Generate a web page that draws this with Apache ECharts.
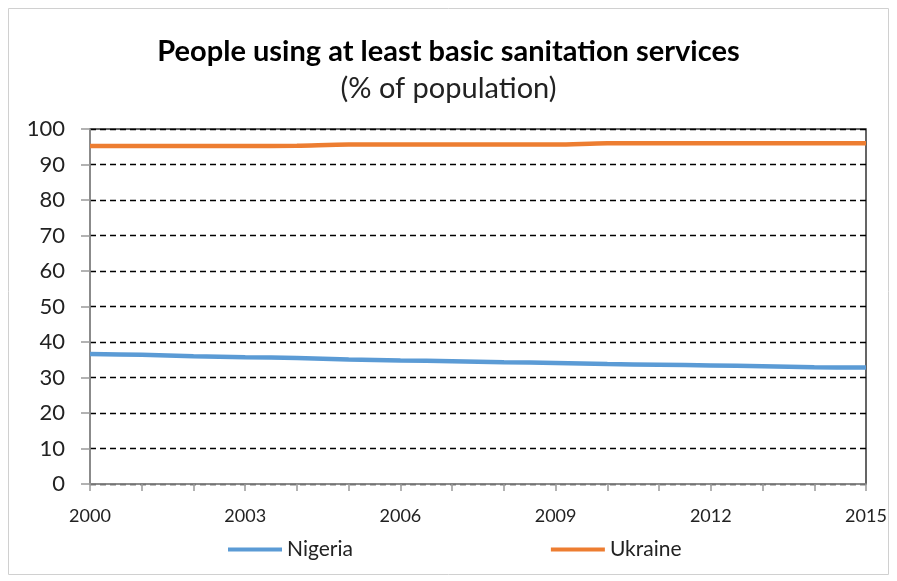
<!DOCTYPE html>
<html>
<head>
<meta charset="utf-8">
<script src="https://cdn.jsdelivr.net/npm/echarts@6/dist/echarts.min.js"></script>
<style>
  html, body { margin: 0; padding: 0; background: #fff; }
  #chart { width: 897px; height: 581px; }
</style>
</head>
<body>
<div id="chart"></div>
<script>
// Years on the category axis
const years = ['2000','2001','2002','2003','2004','2005','2006','2007',
               '2008','2009','2010','2011','2012','2013','2014','2015'];
// Share of population using at least basic sanitation services (%)
const nigeria = [36.6, 36.4, 36.0, 35.7, 35.5, 35.1, 34.8, 34.6,
                 34.3, 34.1, 33.8, 33.6, 33.4, 33.2, 32.9, 32.8];
const ukraine = [95.2, 95.2, 95.2, 95.2, 95.3, 95.6, 95.6, 95.6,
                 95.6, 95.6, 96.0, 96.0, 96.0, 96.0, 96.0, 96.0];

const titleText = 'People using at least basic sanitation services';
const subtitleText = '(% of population)';
const font = 'Lato, "Open Sans", sans-serif';

const chart = echarts.init(document.getElementById('chart'));
chart.setOption({
  animation: false,
  backgroundColor: '#fff',
  title: {
    text: titleText,
    subtext: subtitleText,
    left: 'center',
    top: 32,
    itemGap: 8,
    textStyle: { fontFamily: font, fontSize: 29, fontWeight: 'bold', color: '#000' },
    subtextStyle: { fontFamily: font, fontSize: 29, color: '#222' }
  },
  legend: {
    bottom: 16,
    left: 223,
    itemGap: 198,
    itemWidth: 54,
    itemHeight: 4,
    icon: 'rect',
    textStyle: { fontFamily: font, fontSize: 21, color: '#222' },
    data: ['Nigeria', 'Ukraine']
  },
  grid: { left: 90, right: 31, top: 129, bottom: 97, show: true, borderColor: '#333', borderWidth: 1.5 },
  xAxis: {
    type: 'category',
    data: years,
    boundaryGap: false,
    axisLine: { lineStyle: { color: '#999', width: 1.5 } },
    axisTick: { interval: 0, length: 7, lineStyle: { color: '#999', width: 1.5 } },
    axisLabel: { interval: 2, margin: 23, fontFamily: font, fontSize: 18, color: '#222' },
    splitLine: { show: false }
  },
  yAxis: {
    type: 'value',
    min: 0,
    max: 100,
    interval: 10,
    axisLine: { show: true, lineStyle: { color: '#999', width: 1.5 } },
    axisTick: { show: true, length: 9, lineStyle: { color: '#999', width: 1.5 } },
    axisLabel: { margin: 25, fontFamily: font, fontSize: 22, color: '#222' },
    splitLine: { lineStyle: { color: '#000', type: [6, 4], width: 1.3 } }
  },
  series: [
    {
      name: 'Nigeria', type: 'line', data: nigeria, showSymbol: false, smooth: 0.3,
      lineStyle: { color: '#5B9BD5', width: 4.5 }, itemStyle: { color: '#5B9BD5' }
    },
    {
      name: 'Ukraine', type: 'line', data: ukraine, showSymbol: false, smooth: 0.3,
      lineStyle: { color: '#ED7D31', width: 4.5 }, itemStyle: { color: '#ED7D31' }
    }
  ],
  graphic: [{
    type: 'rect', silent: true, z: -1,
    shape: { x: 8.5, y: 8.5, width: 880, height: 566 },
    style: { fill: 'none', stroke: '#d0d0d0', lineWidth: 1 }
  }]
});
</script>
</body>
</html>
